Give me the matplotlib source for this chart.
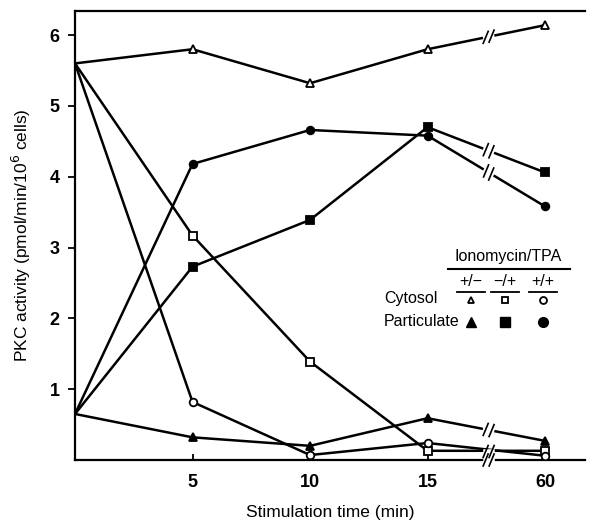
import numpy as np
import matplotlib
matplotlib.use('Agg')
import matplotlib.pyplot as plt

plt.rcParams['font.family'] = ['Liberation Sans', 'DejaVu Sans']

# x positions: 0, 5, 10, 15 min, then axis break, 60 min drawn at 20
time_pos = [0, 5, 10, 15, 20]
time_labels = ['5', '10', '15', '60']

cyt_pm = [5.6, 5.80, 5.32, 5.80, 6.14]     # +/- cytosol (open triangle)
par_pm = [0.65, 0.32, 0.20, 0.59, 0.27]    # +/- particulate (filled triangle)
cyt_mp = [5.6, 3.17, 1.39, 0.13, 0.13]     # -/+ cytosol (open square)
par_mp = [0.65, 2.73, 3.39, 4.70, 4.06]    # -/+ particulate (filled square)
cyt_pp = [5.6, 0.82, 0.07, 0.24, 0.06]     # +/+ cytosol (open circle)
par_pp = [0.65, 4.18, 4.66, 4.58, 3.58]    # +/+ particulate (filled circle)

break_x = 17.6

fig = plt.figure(figsize=(5.97, 5.20), dpi=100)
ax = fig.add_axes([75/597, 1-460/520, 510/597, 449/520])
ax.set_xlim(0, 21.7)
ax.set_ylim(0, 6.34)

series = [
    (cyt_pm, '^', 'white'), (par_pm, '^', 'black'),
    (cyt_mp, 's', 'white'), (par_mp, 's', 'black'),
    (cyt_pp, 'o', 'white'), (par_pp, 'o', 'black'),
]
for vals, m, fc in series:
    ax.plot(time_pos, vals, color='black', lw=1.8, marker=m, ms=5.5,
            mfc=fc, mec='black', mew=1.3, markevery=[1, 2, 3, 4], zorder=3)

ax.spines['right'].set_visible(False)
for s in ['left', 'bottom', 'top']:
    ax.spines[s].set_linewidth(1.6)

ax.set_yticks([1, 2, 3, 4, 5, 6])
ax.set_xticks(time_pos[1:])
ax.set_xticklabels(time_labels)
ax.tick_params(axis='y', direction='out', length=5, width=1.3, labelsize=13, pad=6)
ax.tick_params(axis='x', direction='in', length=4, width=1.3, labelsize=13, pad=10)
for lab in ax.get_xticklabels() + ax.get_yticklabels():
    lab.set_fontweight('bold')

ax.set_xlabel('Stimulation time (min)', fontsize=12.5, labelpad=10)
ax.set_ylabel('PKC activity (pmol/min/10$^6$ cells)', fontsize=12.5, labelpad=12)


def break_mark(xd, yd, slope_px):
    # draw a "//" break at data point (xd, yd) on a line, in pixel units
    px, py = ax.transData.transform((xd, yd))
    d = np.array([1.0, slope_px]) / np.hypot(1.0, slope_px)
    gap = 3.0
    ax.plot([px - d[0]*gap, px + d[0]*gap], [py - d[1]*gap, py + d[1]*gap],
            color='white', lw=4, transform=None, clip_on=False, zorder=4)
    for off in (-gap, gap):
        cx, cy = px + d[0]*off, py + d[1]*off
        ax.plot([cx - 2.5, cx + 2.5], [cy - 6, cy + 6], color='black', lw=1.2,
                transform=None, clip_on=False, zorder=5)


fig.canvas.draw()
for vals in (cyt_pm, par_pm, par_mp, par_pp):
    y15, y60 = vals[3], vals[4]
    ym = y15 + (y60 - y15) * (break_x - 15) / 5
    p1 = ax.transData.transform((15, y15))
    p2 = ax.transData.transform((20, y60))
    slope = (p2[1] - p1[1]) / (p2[0] - p1[0])
    break_mark(break_x, ym, slope)
# shared break for the lines near zero and the x axis
break_mark(break_x, 0.12, 0.0)
break_mark(break_x, 0.0, 0.0)

# legend table
def ft(x, y, s, **kw):
    fig.text(x/597, 1-y/520, s, fontsize=11.5, va='center', **kw)

ft(508, 256, 'Ionomycin/TPA', ha='center')
fig.add_artist(plt.Line2D([448/597, 570/597], [1-269/520, 1-269/520], color='black', lw=1.5))
col_x = [471, 505, 543]
for cx, h in zip(col_x, ['+/\u2212', '\u2212/+', '+/+']):
    ft(cx, 282, h, ha='center')
    fig.add_artist(plt.Line2D([(cx-14)/597, (cx+14)/597], [1-292/520, 1-292/520],
                              color='black', lw=1.3))
ft(384, 299, 'Cytosol', ha='left')
ft(384, 321, 'Particulate', ha='left')
for cx, m in zip(col_x, ['^', 's', 'o']):
    fig.add_artist(plt.Line2D([cx/597], [1-300/520], marker=m, ms=5, mfc='white',
                              mec='black', mew=1.3, ls='none'))
    fig.add_artist(plt.Line2D([cx/597], [1-322/520], marker=m, ms=7, mfc='black',
                              mec='black', ls='none'))

fig.savefig('out.png', dpi=100)
